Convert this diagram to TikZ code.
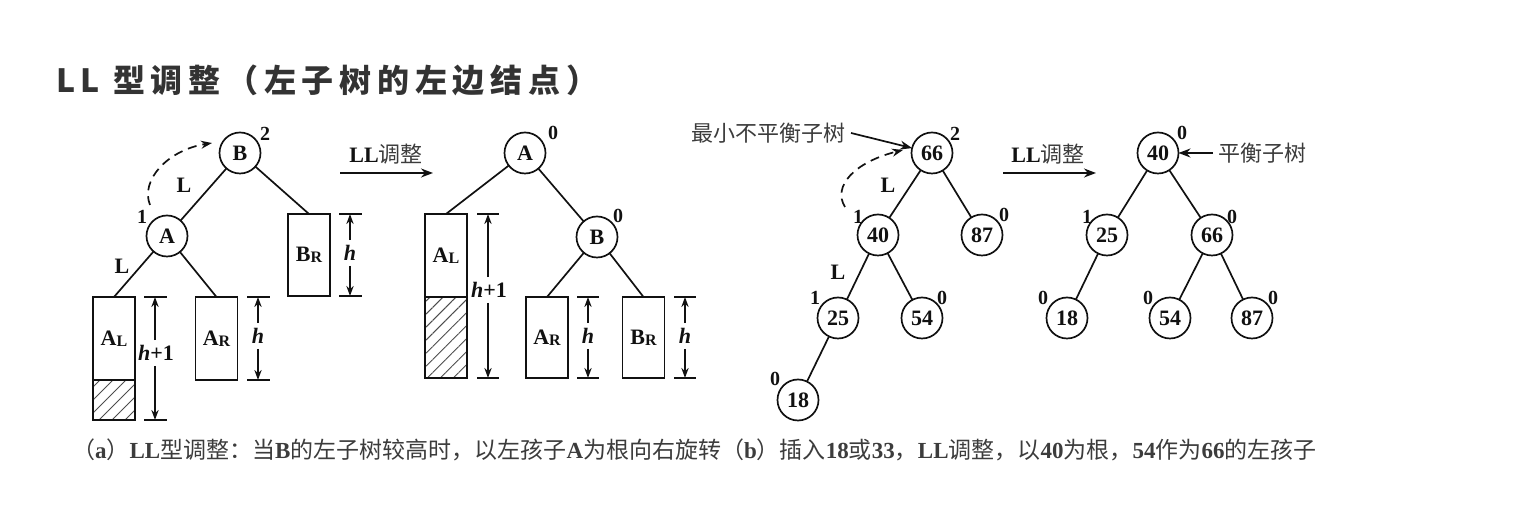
\documentclass[tikz,border=0pt]{standalone}
\usepackage{fontspec}
\setmainfont{Liberation Serif}
\newfontfamily\cjk{Noto Sans CJK SC}
\newfontfamily\ttl[LetterSpace=18]{Noto Sans CJK SC}
\usetikzlibrary{arrows.meta,patterns.meta}
\definecolor{ink}{HTML}{111111}
\definecolor{cjkgray}{HTML}{3C3C3C}
\definecolor{titlegray}{HTML}{333333}
\begin{document}
\begin{tikzpicture}[x=0.5pt,y=-0.5pt,
  every node/.style={inner sep=0pt,outer sep=0pt,text=ink},
  cnode/.style={draw=ink,circle,line width=0.85pt,minimum size=20.5pt,font=\fontsize{11}{11}\selectfont\bfseries},
  bal/.style={font=\fontsize{10}{10}\selectfont\bfseries},
  lab/.style={font=\fontsize{11}{11}\selectfont\bfseries},
  edge/.style={draw=ink,line width=0.85pt},
  box/.style={draw=ink,line width=0.85pt,minimum width=21pt,font=\fontsize{11}{11}\selectfont\bfseries},
  hatchbox/.style={draw=ink,line width=0.85pt,minimum width=21pt,pattern={Lines[angle=45,distance=4.6pt,line width=0.5pt]},pattern color=ink!75},
  dimarrow/.style={draw=ink,line width=0.85pt,-{Stealth[length=5pt,width=3.6pt]}},
  tickline/.style={draw=ink,line width=0.85pt},
  dimlab/.style={inner sep=2.6pt,font=\fontsize{11}{11}\selectfont\bfseries},
  bigarrow/.style={draw=ink,line width=0.85pt,-{Stealth[length=6pt,width=4.5pt]}},
  dasharrow/.style={draw=ink,line width=0.85pt,dash pattern=on 4.5pt off 3pt,-{Stealth[length=5.5pt,width=4pt]}},
  cjklab/.style={text=cjkgray,font=\cjk\fontsize{11}{11}\selectfont},
  llab/.style={font=\fontsize{11}{11}\selectfont},
]
\useasboundingbox (0,0) rectangle (1520,506);

% title
\node[anchor=west,text=titlegray,font=\ttl\bfseries\fontsize{16}{16}\selectfont] (title) at (56,80) {LL 型调整（左子树的左边结点）};

% ---------------- (a) left tree
\node[cnode] (aB) at (240,153) {B};
\node[cnode] (aA) at (167,236) {A};
\node[bal] (aB2) at (265,134) {2};
\node[bal] (aA1) at (142,217) {1};
\node[box,minimum height=41.5pt] (aAL) at (114,338.5) {A\raisebox{-0.5pt}{\fontsize{8}{8}\selectfont L}};
\node[hatchbox,minimum height=20pt] (aALh) at (114,400) {};
\node[box,minimum height=41.5pt] (aAR) at (216.5,338.5) {A\raisebox{-0.5pt}{\fontsize{8}{8}\selectfont R}};
\node[box,minimum height=41pt] (aBR) at (309,255) {B\raisebox{-0.5pt}{\fontsize{8}{8}\selectfont R}};
\draw[edge] (aB) -- (aA);
\draw[edge] (aA) -- (aAL.north);
\draw[edge] (aA) -- (aAR.north);
\draw[edge] (aB) -- (aBR.north);
\node[lab] (aL1) at (184,185) {L};
\node[lab] (aL2) at (122,266) {L};
\coordinate (aDs) at (150,205);
\coordinate (aDe) at (212,143);
\draw[dasharrow] (aDs) .. controls (140,180) and (168,150) .. (aDe);

% dimensions (a)
\node[dimlab] (aH1) at (156,353) {\textit{h}+1};
\coordinate (aH1t) at (155,297); \coordinate (aH1b) at (155,420);
\draw[tickline] (144,297) -- (167,297); \draw[tickline] (144,420) -- (167,420);
\draw[dimarrow] (aH1.north -| aH1t) -- (aH1t);
\draw[dimarrow] (aH1.south -| aH1b) -- (aH1b);

\node[dimlab] (aH2) at (258,336) {\textit{h}};
\coordinate (aH2t) at (258,297); \coordinate (aH2b) at (258,380);
\draw[tickline] (247,297) -- (270,297); \draw[tickline] (247,380) -- (270,380);
\draw[dimarrow] (aH2.north) -- (aH2t);
\draw[dimarrow] (aH2.south) -- (aH2b);

\node[dimlab] (aH3) at (350,253) {\textit{h}};
\coordinate (aH3t) at (350,214); \coordinate (aH3b) at (350,296);
\draw[tickline] (339,214) -- (362,214); \draw[tickline] (339,296) -- (362,296);
\draw[dimarrow] (aH3.north) -- (aH3t);
\draw[dimarrow] (aH3.south) -- (aH3b);

% LL arrow (a)
\node[llab] (aLL) at (386,154) {\textbf{LL}{\cjk\color{cjkgray}调整}};
\coordinate (aArS) at (340,173); \coordinate (aArE) at (433,173);
\draw[bigarrow] (aArS) -- (aArE);

% ---------------- middle tree
\node[cnode] (mA) at (525,153) {A};
\node[cnode] (mB) at (597,237) {B};
\node[bal] (mA0) at (553,133) {0};
\node[bal] (mB0) at (618,216) {0};
\node[box,minimum height=41.5pt] (mAL) at (446,255.5) {A\raisebox{-0.5pt}{\fontsize{8}{8}\selectfont L}};
\node[hatchbox,minimum height=40.5pt] (mALh) at (446,337.5) {};
\node[box,minimum height=40.5pt] (mAR) at (547,337.5) {A\raisebox{-0.5pt}{\fontsize{8}{8}\selectfont R}};
\node[box,minimum height=40.5pt] (mBR) at (643.5,337.5) {B\raisebox{-0.5pt}{\fontsize{8}{8}\selectfont R}};
\draw[edge] (mA) -- (mAL.north);
\draw[edge] (mA) -- (mB);
\draw[edge] (mB) -- (mAR.north);
\draw[edge] (mB) -- (mBR.north);

\node[dimlab] (mH1) at (489,290) {\textit{h}+1};
\coordinate (mH1t) at (488,214); \coordinate (mH1b) at (488,378);
\draw[tickline] (477,214) -- (499,214); \draw[tickline] (477,378) -- (499,378);
\draw[dimarrow] (mH1.north -| mH1t) -- (mH1t);
\draw[dimarrow] (mH1.south -| mH1b) -- (mH1b);

\node[dimlab] (mH2) at (588,336) {\textit{h}};
\coordinate (mH2t) at (588,297); \coordinate (mH2b) at (588,378);
\draw[tickline] (577,297) -- (599,297); \draw[tickline] (577,378) -- (599,378);
\draw[dimarrow] (mH2.north) -- (mH2t);
\draw[dimarrow] (mH2.south) -- (mH2b);

\node[dimlab] (mH3) at (685,336) {\textit{h}};
\coordinate (mH3t) at (685,297); \coordinate (mH3b) at (685,378);
\draw[tickline] (674,297) -- (696,297); \draw[tickline] (674,378) -- (696,378);
\draw[dimarrow] (mH3.north) -- (mH3t);
\draw[dimarrow] (mH3.south) -- (mH3b);

% ---------------- (b) left tree
\node[cnode] (b66) at (932,153) {66};
\node[cnode] (b40) at (878,235) {40};
\node[cnode] (b87) at (982,235) {87};
\node[cnode] (b25) at (838,318) {25};
\node[cnode] (b54) at (922,318) {54};
\node[cnode] (b18) at (798,400) {18};
\draw[edge] (b66) -- (b40);
\draw[edge] (b66) -- (b87);
\draw[edge] (b40) -- (b25);
\draw[edge] (b40) -- (b54);
\draw[edge] (b25) -- (b18);
\node[bal] (b66b) at (955,134) {2};
\node[bal] (b40b) at (858,217) {1};
\node[bal] (b87b) at (1004,215) {0};
\node[bal] (b25b) at (815,298) {1};
\node[bal] (b54b) at (942,298) {0};
\node[bal] (b18b) at (775,379) {0};
\node[lab] (bL1) at (888,185) {L};
\node[lab] (bL2) at (838,272) {L};
\coordinate (bDs) at (845,207);
\coordinate (bDe) at (903,150);
\draw[dasharrow] (bDs) .. controls (832,186) and (855,162) .. (bDe);
\node[cjklab] (bMin) at (768,133) {最小不平衡子树};
\path (bMin.east) ++(6,0) coordinate (bMinS);
\draw[bigarrow] (bMinS) -- (b66);

% LL arrow (b)
\node[llab] (bLL) at (1048,154) {\textbf{LL}{\cjk\color{cjkgray}调整}};
\coordinate (bArS) at (1003,173); \coordinate (bArE) at (1096,173);
\draw[bigarrow] (bArS) -- (bArE);

% ---------------- (b) right tree
\node[cnode] (c40) at (1158,153) {40};
\node[cnode] (c25) at (1107,235) {25};
\node[cnode] (c66) at (1212,235) {66};
\node[cnode] (c18) at (1067,318) {18};
\node[cnode] (c54) at (1170,318) {54};
\node[cnode] (c87) at (1252,318) {87};
\draw[edge] (c40) -- (c25);
\draw[edge] (c40) -- (c66);
\draw[edge] (c25) -- (c18);
\draw[edge] (c66) -- (c54);
\draw[edge] (c66) -- (c87);
\node[bal] (c40b) at (1182,133) {0};
\node[bal] (c25b) at (1087,217) {1};
\node[bal] (c66b) at (1232,217) {0};
\node[bal] (c18b) at (1043,298) {0};
\node[bal] (c54b) at (1148,298) {0};
\node[bal] (c87b) at (1273,298) {0};
\node[cjklab] (cBal) at (1262,153) {平衡子树};
\path (cBal.west) ++(-5,0) coordinate (cBalS);
\draw[bigarrow] (cBalS) -- (c40);

% caption
\node[anchor=west,text=cjkgray,font=\fontsize{11.5}{11.5}\selectfont] (cap) at (72,450) {{\cjk （}\textbf{a}{\cjk ）}\textbf{LL}{\cjk 型调整：当}\textbf{B}{\cjk 的左子树较高时，以左孩子}\textbf{A}{\cjk 为根向右旋转（}\textbf{b}{\cjk ）插入}\textbf{18}{\cjk 或}\textbf{33}{\cjk ，}\textbf{LL}{\cjk 调整，以}\textbf{40}{\cjk 为根，}\textbf{54}{\cjk 作为}\textbf{66}{\cjk 的左孩子}};
\end{tikzpicture}
\end{document}
